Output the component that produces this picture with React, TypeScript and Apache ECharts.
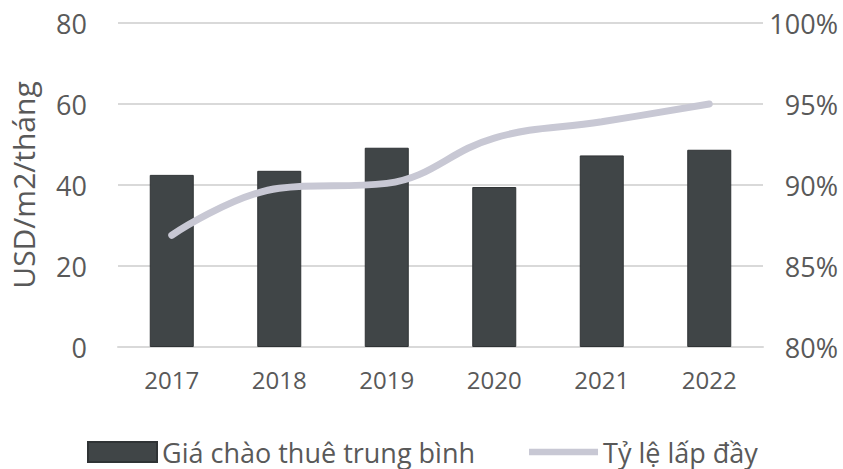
import React, { useEffect, useRef } from "react";
import * as echarts from "echarts";

const categories = ["2017", "2018", "2019", "2020", "2021", "2022"];
const rentValues = [42.5, 43.5, 49.2, 39.5, 47.3, 48.7];
const occupancyValues = [86.9, 89.8, 90.1, 92.9, 93.9, 95.0];
const leftTicks = [0, 20, 40, 60, 80];
const rightTicks = [80, 85, 90, 95, 100];
const barName = "Giá chào thuê trung bình";
const lineName = "Tỷ lệ lấp đầy";
const leftAxisTitle = "USD/m2/tháng";

const FONT = "'Open Sans', sans-serif";
const TEXT = "#595959";

export default function App() {
  const ref = useRef<HTMLDivElement>(null);
  useEffect(() => {
    if (!ref.current) return;
    const chart = echarts.init(ref.current, null, { renderer: "svg" });
    chart.setOption({
      animation: false,
      backgroundColor: "#ffffff",
      textStyle: { fontFamily: FONT, color: TEXT },
      grid: { left: 118, right: 80, top: 23, bottom: 122 },
      legend: {
        left: 87,
        top: 438,
        padding: 0,
        itemWidth: 69,
        itemHeight: 20,
        itemGap: 54,
        textStyle: { fontFamily: FONT, fontSize: 27, lineHeight: 28, color: TEXT },
        data: [
          { name: barName, icon: "rect" },
          { name: lineName, icon: "path://M0,0H73V7H0Z" },
        ],
      },
      xAxis: {
        type: "category",
        data: categories,
        axisLine: { show: true, lineStyle: { color: "#d9d9d9", width: 2 } },
        axisTick: { show: false },
        axisLabel: { fontFamily: FONT, fontSize: 24, color: TEXT, margin: 20 },
      },
      yAxis: [
        {
          type: "value",
          min: 0,
          max: 80,
          interval: 20,
          name: leftAxisTitle,
          nameLocation: "middle",
          nameRotate: 90,
          nameGap: 80,
          nameTextStyle: { fontFamily: FONT, fontSize: 30, color: TEXT },
          axisLine: { show: false },
          axisTick: { show: false },
          splitLine: { lineStyle: { color: "#d9d9d9", width: 2 } },
          axisLabel: {
            fontFamily: FONT,
            fontSize: 27,
            color: TEXT,
            margin: 31,
            formatter: (v: number) => (leftTicks.includes(v) ? String(v) : ""),
          },
        },
        {
          type: "value",
          min: 80,
          max: 100,
          interval: 5,
          position: "right",
          axisLine: { show: false },
          axisTick: { show: false },
          splitLine: { show: false },
          axisLabel: {
            fontFamily: FONT,
            fontSize: 27,
            color: TEXT,
            margin: 75,
            align: "right",
            formatter: (v: number) => (rightTicks.includes(v) ? v + "%" : ""),
          },
        },
      ],
      series: [
        {
          name: barName,
          type: "bar",
          data: rentValues,
          barWidth: 44,
          itemStyle: { color: "#404547", borderColor: "#2f3335", borderWidth: 1 },
        },
        {
          name: lineName,
          type: "line",
          yAxisIndex: 1,
          data: occupancyValues,
          smooth: 0.4,
          showSymbol: false,
          symbol: "none",
          lineStyle: { color: "#c8c8d4", width: 7, cap: "round" },
          itemStyle: { color: "#c8c8d4" },
        },
      ],
    });
    return () => chart.dispose();
  }, []);
  return (
    <div
      ref={ref}
      style={{ position: "fixed", left: 0, top: 0, width: 843, height: 469 }}
    />
  );
}
